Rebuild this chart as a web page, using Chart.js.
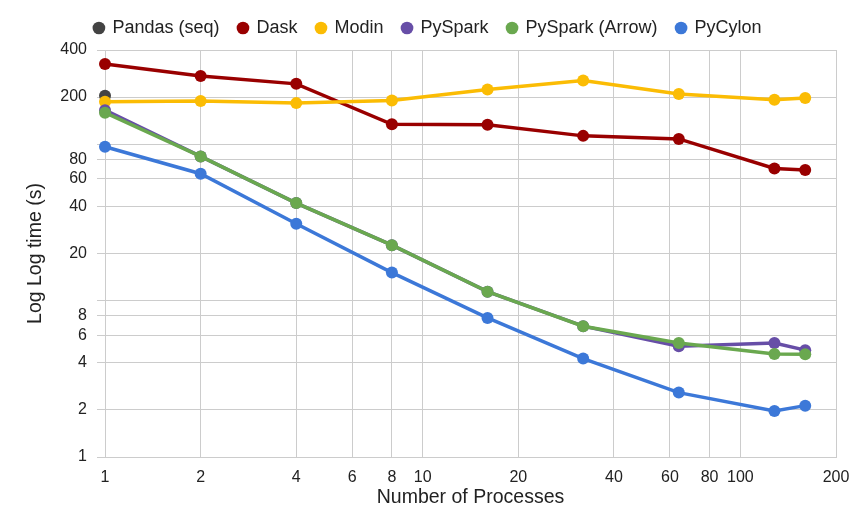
<!DOCTYPE html>
<html lang="en">
<head>
    <meta charset="UTF-8">
    <title>Log Log time vs Number of Processes</title>
    <script src="https://cdn.jsdelivr.net/npm/chart.js"></script>
    <style>
        body { margin: 0; background: #fff; }
        #wrap { width: 856px; height: 516px; }
    </style>
</head>
<body>
    <div id="wrap"><canvas id="chart"></canvas></div>

    <script>
        // Data
        const processes = [1, 2, 4, 8, 16, 32, 64, 128, 160];
        const pandasSeq = [204];
        const dask = [325, 273, 243, 134, 133, 113, 108, 70, 68.3];
        const modin = [187, 189, 183, 190, 224, 255, 209, 192, 197];
        const pyspark = [165, 83.5, 42, 22.6, 11.4, 6.86, 5.11, 5.36, 4.82];
        const pysparkArrow = [159, 83.5, 42, 22.6, 11.4, 6.86, 5.36, 4.56, 4.54];
        const pycylon = [96.2, 64.7, 31.0, 15.1, 7.75, 4.26, 2.58, 1.97, 2.13];

        const xTicks = [1, 2, 4, 6, 8, 10, 20, 40, 60, 80, 100, 200];
        const yTicks = [1, 2, 4, 6, 8, 10, 20, 40, 60, 80, 100, 200, 400];
        const yUnlabeled = [10, 100];

        const font = 'Liberation Sans, Arial, sans-serif';
        const textColor = '#222222';
        const gridColor = '#cccccc';

        function pts(values) {
            return values.map((v, i) => ({ x: processes[i], y: v }));
        }

        const series = [
            { label: 'Pandas (seq)', data: pandasSeq, color: '#434343' },
            { label: 'Dask', data: dask, color: '#990000' },
            { label: 'Modin', data: modin, color: '#fbbc04' },
            { label: 'PySpark', data: pyspark, color: '#674ea7' },
            { label: 'PySpark (Arrow)', data: pysparkArrow, color: '#6aa84f' },
            { label: 'PyCylon', data: pycylon, color: '#3c78d8' }
        ];

        // keep the legend strip at a fixed height
        const legendHeight = {
            id: 'legendHeight',
            beforeLayout(chart) {
                const lg = chart.legend;
                if (lg && !lg._patched) {
                    const fit = lg.fit;
                    lg.fit = function () {
                        fit.call(this);
                        this.height = 50;
                    };
                    lg._patched = true;
                }
            }
        };

        new Chart(document.getElementById('chart'), {
            type: 'line',
            data: {
                datasets: series.map((s, i) => ({
                    label: s.label,
                    data: pts(s.data),
                    borderColor: s.color,
                    backgroundColor: s.color,
                    pointBackgroundColor: s.color,
                    pointBorderWidth: 0,
                    pointRadius: 6,
                    borderWidth: 3.5,
                    tension: 0,
                    clip: false,
                    order: series.length - i
                }))
            },
            options: {
                responsive: true,
                maintainAspectRatio: false,
                animation: false,
                layout: { padding: 0 },
                plugins: {
                    legend: {
                        position: 'top',
                        labels: {
                            usePointStyle: true,
                            pointStyle: 'circle',
                            boxWidth: 9,
                            boxHeight: 9,
                            padding: 19,
                            color: textColor,
                            font: { family: font, size: 18 },
                            sort: (a, b) => a.datasetIndex - b.datasetIndex
                        }
                    },
                    tooltip: { enabled: false }
                },
                scales: {
                    x: {
                        type: 'logarithmic',
                        min: 1,
                        max: 200,
                        afterBuildTicks: (scale) => {
                            scale.ticks = xTicks.map(v => ({ value: v }));
                        },
                        afterFit: (scale) => {
                            scale.height = 59;
                            scale.paddingLeft = 0;
                            scale.paddingRight = 0;
                        },
                        ticks: {
                            autoSkip: false,
                            maxRotation: 0,
                            padding: 11,
                            color: textColor,
                            font: { family: font, size: 16 },
                            callback: (v) => String(v)
                        },
                        grid: { color: gridColor, drawTicks: false },
                        border: { color: gridColor },
                        title: {
                            display: true,
                            text: 'Number of Processes',
                            color: textColor,
                            font: { family: font, size: 19.5 },
                            padding: { top: 0, bottom: 7 }
                        }
                    },
                    y: {
                        type: 'logarithmic',
                        min: 1,
                        max: 400,
                        afterBuildTicks: (scale) => {
                            scale.ticks = yTicks.map(v => ({ value: v }));
                        },
                        afterFit: (scale) => { scale.width = 105; },
                        ticks: {
                            autoSkip: false,
                            padding: 10,
                            color: textColor,
                            font: { family: font, size: 16 },
                            callback: (v) => yUnlabeled.includes(v) ? '' : String(v)
                        },
                        grid: { color: gridColor, tickLength: 8 },
                        border: { color: gridColor },
                        title: {
                            display: true,
                            text: 'Log Log time (s)',
                            color: textColor,
                            font: { family: font, size: 19.5 },
                            padding: { top: 24, bottom: 0 }
                        }
                    },
                    yRight: {
                        type: 'linear',
                        position: 'right',
                        display: true,
                        ticks: { display: false },
                        grid: { display: false },
                        border: { display: false },
                        afterFit: (scale) => { scale.width = 20; }
                    }
                }
            },
            plugins: [legendHeight]
        });
    </script>
</body>
</html>
